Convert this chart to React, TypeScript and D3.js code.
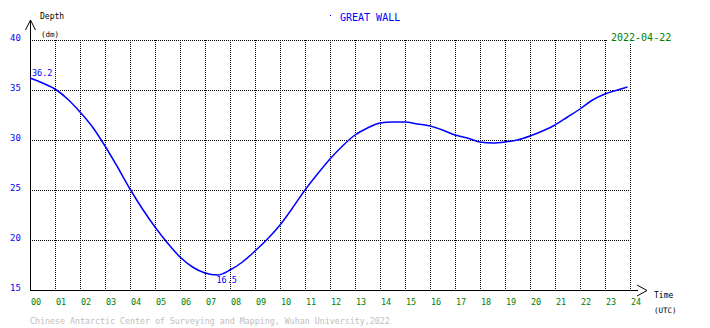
import * as d3 from "d3";

// tide record, Great Wall station, 2022-04-22 (half-hour steps)
const hours = [
  0, 0.5, 1, 1.5, 2, 2.5, 3, 3.5, 4, 4.5, 5, 5.5, 6, 6.5, 7, 7.5, 8, 8.5, 9, 9.5,
  10, 10.5, 11, 11.5, 12, 12.5, 13, 13.5, 14, 14.5, 15, 15.5, 16, 16.5, 17, 17.5,
  18, 18.5, 19, 19.5, 20, 20.5, 21, 21.5, 22, 22.5, 23, 23.5, 23.9,
];
const depth = [
  36.2, 35.7, 35.1, 34.1, 32.8, 31.3, 29.4, 27.3, 25.1, 23.1, 21.3, 19.7, 18.3, 17.3,
  16.7, 16.5, 17.0, 17.8, 18.9, 20.1, 21.5, 23.2, 25.0, 26.6, 28.1, 29.4, 30.5, 31.2,
  31.7, 31.8, 31.8, 31.6, 31.4, 31.0, 30.5, 30.2, 29.8, 29.7, 29.8, 30.0, 30.4, 30.9,
  31.5, 32.3, 33.1, 34.0, 34.6, 35.0, 35.3,
];
const yTicks = [15, 20, 25, 30, 35, 40];
const xTicks = d3.range(0, 25);
const station = "GREAT WALL";
const dateLabel = "2022-04-22";
const footer = "Chinese Antarctic Center of Surveying and Mapping, Wuhan University,2022";

const W = 710;
const H = 328;
const mono = "'DejaVu Sans Mono', monospace";
const blue = "#0000ff";
const green = "#008000";

export default function App() {
  const x = d3.scaleLinear().domain([0, 24]).range([30, 630]);
  const y = d3.scaleLinear().domain([15, 40]).range([290, 40]);

  const pts = hours.map((h, i) => ({ h, v: depth[i] }));
  const line = d3
    .line<{ h: number; v: number }>()
    .x((d) => x(d.h))
    .y((d) => y(d.v))
    .curve(d3.curveMonotoneX);

  const first = pts[0];
  const minPt = pts.reduce((a, b) => (b.v < a.v ? b : a));

  return (
    <svg
      width={W}
      height={H}
      style={{ position: "absolute", left: 0, top: 0, background: "#fff" }}
      fontFamily={mono}
    >
      {/* dotted grid */}
      {yTicks.slice(1).map((t) => (
        <line
          key={"h" + t}
          x1={x(0)}
          x2={x(24)}
          y1={y(t) + 0.5}
          y2={y(t) + 0.5}
          stroke="#000"
          strokeDasharray="1,1"
        />
      ))}
      {xTicks.slice(1).map((t) => (
        <line
          key={"v" + t}
          x1={x(t) + 0.5}
          x2={x(t) + 0.5}
          y1={y(40)}
          y2={y(15)}
          stroke="#000"
          strokeDasharray="1,1"
        />
      ))}

      {/* axes with arrows */}
      <g stroke="#000" fill="none">
        <line x1={30.5} x2={30.5} y1={20} y2={y(15) + 0.5} />
        <polyline points="25.5,30 30.5,20 35.5,30" />
        <line x1={30} x2={638} y1={y(15) + 0.5} y2={y(15) + 0.5} />
        <polyline points="637,285 647,290.5 637,296" />
      </g>

      {/* y tick labels */}
      {yTicks.map((t) => (
        <text key={"yl" + t} x={10} y={y(t) + 1} fontSize={9} fill={blue}>
          {t}
        </text>
      ))}
      {/* x tick labels */}
      {xTicks.map((t) => (
        <text key={"xl" + t} x={x(t) + 1} y={305} fontSize={8.5} fill={green}>
          {String(t).padStart(2, "0")}
        </text>
      ))}

      {/* axis titles */}
      <text x={40} y={19} fontSize={8} fill="#000">Depth</text>
      <text x={41} y={37} fontSize={7.5} fill="#000">(dm)</text>
      <text x={654} y={298} fontSize={8} fill="#000">Time</text>
      <text x={654} y={313} fontSize={7.5} fill="#000">(UTC)</text>

      {/* title and date */}
      <rect x={330} y={15} width={1} height={1} fill={blue} />
      <text x={340} y={21} fontSize={10} fill={blue}>{station}</text>
      <rect x={608} y={32} width={66} height={11} fill="#fff" />
      <text x={611} y={41} fontSize={10} fill={green}>{dateLabel}</text>

      {/* tide curve */}
      <path d={line(pts) ?? ""} fill="none" stroke={blue} strokeWidth={1.5} />

      {/* extreme value labels */}
      <text x={x(first.h) + 2} y={y(first.v) - 2} fontSize={8.5} fill={blue}>
        {first.v.toFixed(1)}
      </text>
      <text x={x(minPt.h) - 1} y={y(minPt.v) + 8} fontSize={8.5} fill={blue}>
        {minPt.v.toFixed(1)}
      </text>

      {/* footer */}
      <text x={30} y={324} fontSize={8.3} fill="#c0c0c0">{footer}</text>
    </svg>
  );
}
